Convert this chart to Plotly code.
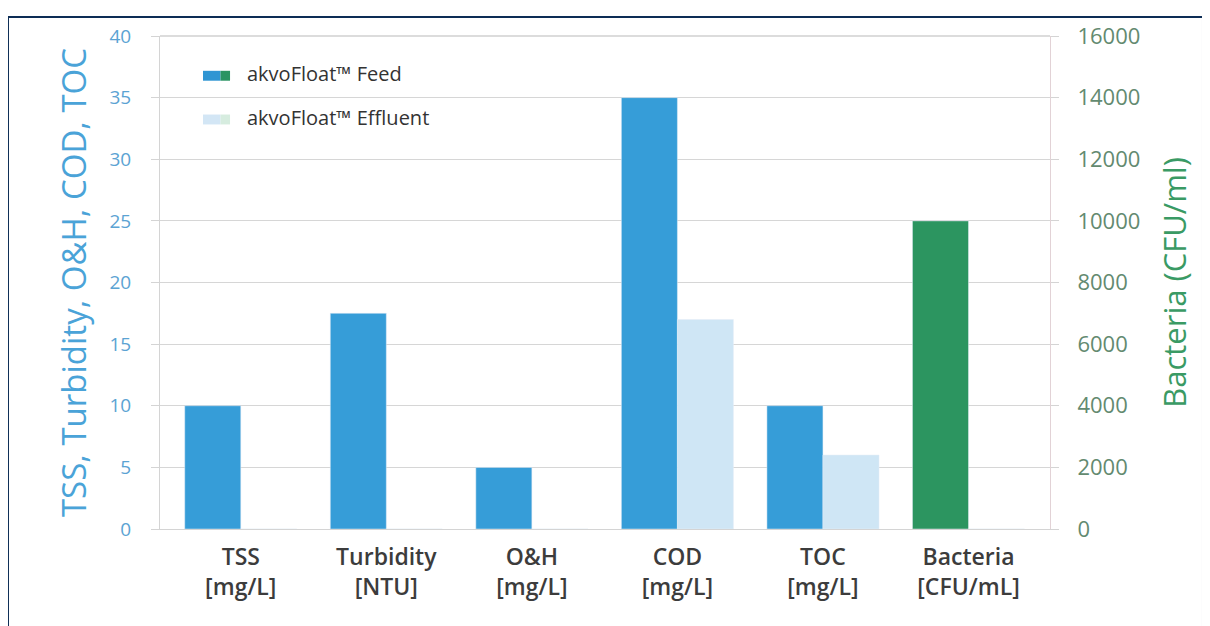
import plotly.graph_objects as go

categories = ["TSS<br>[mg/L]", "Turbidity<br>[NTU]", "O&H<br>[mg/L]", "COD<br>[mg/L]", "TOC<br>[mg/L]", "Bacteria<br>[CFU/mL]"]
feed_left = [10, 17.5, 5, 35, 10, None]
effluent_left = [0, 0, 0, 17, 6, None]
bacteria_feed = [None, None, None, None, None, 10000]
bacteria_effluent = [None, None, None, None, None, 0]
left_ticks = [0, 5, 10, 15, 20, 25, 30, 35, 40]
right_ticks = [0, 2000, 4000, 6000, 8000, 10000, 12000, 14000, 16000]
legend_names = ["akvoFloat™ Feed", "akvoFloat™ Effluent"]

FEED = "#369dd8"
EFF = "#cfe6f5"
GREEN = "#2c9560"
FONT = "Open Sans"

fig = go.Figure()
fig.add_trace(go.Bar(x=categories, y=feed_left, name=legend_names[0], marker_color=FEED,
                     offsetgroup="feed", showlegend=False, yaxis="y"))
fig.add_trace(go.Bar(x=categories, y=effluent_left, name=legend_names[1], marker_color=EFF,
                     offsetgroup="eff", showlegend=False, yaxis="y"))
fig.add_trace(go.Bar(x=categories, y=bacteria_feed, name="Bacteria Feed", marker_color=GREEN,
                     offsetgroup="feed", showlegend=False, yaxis="y2"))
fig.add_trace(go.Bar(x=categories, y=bacteria_effluent, name="Bacteria Effluent", marker_color=EFF,
                     offsetgroup="eff", showlegend=False, yaxis="y2"))

fig.update_layout(
    width=1202, height=618,
    margin=dict(l=152, r=160, t=25, b=97),
    paper_bgcolor="white", plot_bgcolor="white",
    barmode="group", bargap=0.23, bargroupgap=0,
    font=dict(family=FONT, size=16, color="#333333"),
    showlegend=False,
    xaxis=dict(showgrid=False, showline=True, linecolor="#d4d4d4", linewidth=1,
               range=[-0.555, 5.56],
               tickfont=dict(size=23, color="#3c3c3c", family=FONT, weight=600), ticks="",
               ticklabelstandoff=7),
    yaxis=dict(range=[0, 40], tickvals=left_ticks, showgrid=True, gridcolor="#d6d6d6",
               showline=True, linecolor="#d4d4d4", ticks="outside", ticklen=8,
               tickcolor="#d4d4d4", tickfont=dict(size=19, color="#5ba3d3"),
               ticklabelstandoff=16,
               title=dict(text="TSS, Turbidity, O&H, COD, TOC", font=dict(size=33, color="#4aa3d8"),
                          standoff=12),
               zeroline=False),
    yaxis2=dict(range=[0, 16000], tickvals=right_ticks, tickformat="d", overlaying="y", side="right",
                showgrid=False, showline=True, linecolor="#e2d2d6", ticks="outside", ticklen=8,
                tickcolor="#d4d4d4", tickfont=dict(size=22, color="#638a70"),
                ticklabelstandoff=14,
                title=dict(text="Bacteria (CFU/ml)", font=dict(size=31, color="#3a9a64"), standoff=24),
                zeroline=False),
)

# top border line of plot area
fig.add_shape(type="line", xref="paper", yref="paper", x0=0, x1=1, y0=1, y1=1,
              line=dict(color="#dcdcdc", width=2), layer="below")

# legend (swatches + text)
fig.add_shape(type="rect", xref="paper", yref="paper", x0=0.0483, x1=0.0680, y0=0.9093, y1=0.9294,
              line_width=0, fillcolor="#2f95d3")
fig.add_shape(type="rect", xref="paper", yref="paper", x0=0.0680, x1=0.0787, y0=0.9093, y1=0.9294,
              line_width=0, fillcolor="#2b9463")
fig.add_shape(type="rect", xref="paper", yref="paper", x0=0.0483, x1=0.0680, y0=0.8206, y1=0.8407,
              line_width=0, fillcolor="#d3e6f5")
fig.add_shape(type="rect", xref="paper", yref="paper", x0=0.0680, x1=0.0787, y0=0.8206, y1=0.8407,
              line_width=0, fillcolor="#d6ecdf")
fig.add_annotation(xref="paper", yref="paper", x=0.0955, y=0.9234, xanchor="left", yanchor="middle",
                   text=legend_names[0], showarrow=False, font=dict(size=20, color="#333333"))
fig.add_annotation(xref="paper", yref="paper", x=0.0955, y=0.8346, xanchor="left", yanchor="middle",
                   text=legend_names[1], showarrow=False, font=dict(size=20, color="#333333"))

# outer frame
fig.add_shape(type="rect", xref="paper", yref="paper", x0=-0.1708, x1=1.1719, y0=-0.25, y1=1.0383,
              line=dict(color="#0d2d55", width=2), fillcolor="rgba(0,0,0,0)")

fig.write_html("out.html")
